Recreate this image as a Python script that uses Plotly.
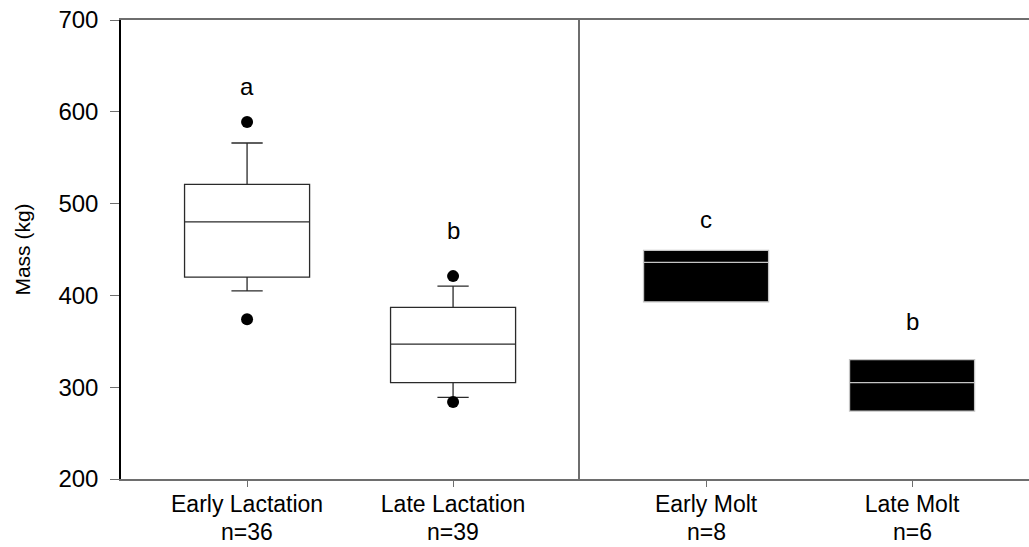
import plotly.graph_objects as go

# Seasonal body mass summaries (kg)
lact_groups = ["Early Lactation", "Late Lactation"]
lact_n = [36, 39]
lact_q1 = [420, 305]
lact_median = [480, 347]
lact_q3 = [521, 387]
lact_lower = [405, 289]
lact_upper = [566, 410]
lact_outliers = [[589, 374], [421, 284]]
lact_letters = ["a", "b"]
lact_letter_y = [628, 471]

molt_groups = ["Early Molt", "Late Molt"]
molt_n = [8, 6]
molt_q1 = [393, 274]
molt_median = [436, 305]
molt_q3 = [449, 330]
molt_letters = ["c", "b"]
molt_letter_y = [483, 372]

y_ticks = [200, 300, 400, 500, 600, 700]

FONT = "Liberation Sans, Arial, sans-serif"
BOX_W = 0.607

fig = go.Figure()

# Lactation panel: open boxes with capped whiskers
for i in range(len(lact_groups)):
    fig.add_trace(go.Box(
        x=[i], q1=[lact_q1[i]], median=[lact_median[i]], q3=[lact_q3[i]],
        lowerfence=[lact_lower[i]], upperfence=[lact_upper[i]],
        width=BOX_W, whiskerwidth=0.25, boxpoints=False,
        fillcolor="white", line=dict(color="#2a2a2a", width=1.3),
        xaxis="x", yaxis="y", showlegend=False, hoverinfo="skip",
    ))
    fig.add_trace(go.Scatter(
        x=[i] * len(lact_outliers[i]), y=lact_outliers[i], mode="markers",
        marker=dict(color="black", size=12),
        xaxis="x", yaxis="y", showlegend=False, hoverinfo="skip",
    ))

# Molt panel: solid boxes, light median line
for i in range(len(molt_groups)):
    fig.add_trace(go.Box(
        x=[i], q1=[molt_q1[i]], median=[molt_median[i]], q3=[molt_q3[i]],
        lowerfence=[molt_q1[i]], upperfence=[molt_q3[i]],
        width=BOX_W, whiskerwidth=0, boxpoints=False,
        fillcolor="black", line=dict(color="#c4c4c4", width=1.3),
        xaxis="x2", yaxis="y2", showlegend=False, hoverinfo="skip",
    ))

# Significance letters
letter_font = dict(family=FONT, size=24, color="black")
for i, t in enumerate(lact_letters):
    fig.add_annotation(x=i, y=lact_letter_y[i], xref="x", yref="y", text=t,
                       showarrow=False, font=letter_font)
for i, t in enumerate(molt_letters):
    fig.add_annotation(x=i, y=molt_letter_y[i], xref="x2", yref="y2", text=t,
                       showarrow=False, font=letter_font)

# Sample sizes under each group name
xtick_font = dict(family=FONT, size=23, color="black")
for xref, counts in (("x", lact_n), ("x2", molt_n)):
    for i, n in enumerate(counts):
        fig.add_annotation(x=i, y=0, xref=xref, yref="paper", text=f"n={n}",
                           showarrow=False, yanchor="middle", yshift=-53,
                           font=xtick_font)

split = (580 - 121) / (1029 - 121)
x_left = -0.612
x_span_l = (580 - 121) / 206
x_span_r = (1029 - 580) / 206

ytick_font = dict(family=FONT, size=24, color="black")
grey = "#6e6e6e"

fig.update_layout(
    width=1029, height=547,
    margin=dict(l=121, r=0, t=20, b=68),
    paper_bgcolor="white", plot_bgcolor="white",
    font=dict(family=FONT, color="black"),
    xaxis=dict(
        domain=[0, split], range=[x_left, x_left + x_span_l],
        tickvals=[0, 1], ticktext=lact_groups, tickfont=xtick_font,
        showgrid=False, zeroline=False, automargin=False,
        showline=True, linecolor=grey, linewidth=2, mirror=True,
        ticks="outside", ticklen=6, tickcolor=grey, tickwidth=1,
        ticklabelstandoff=-3,
    ),
    xaxis2=dict(
        domain=[split, 1], range=[x_left, x_left + x_span_r],
        tickvals=[0, 1], ticktext=molt_groups, tickfont=xtick_font,
        showgrid=False, zeroline=False, anchor="y2", automargin=False,
        showline=True, linecolor=grey, linewidth=2, mirror=True,
        ticks="outside", ticklen=6, tickcolor=grey, tickwidth=1,
        ticklabelstandoff=-3,
    ),
    yaxis=dict(
        range=[200, 700], tickvals=y_ticks, tickfont=ytick_font,
        showgrid=False, zeroline=False, automargin=False,
        showline=True, linecolor="black", linewidth=1.5,
        ticks="outside", ticklen=9, tickcolor=grey, tickwidth=1,
        ticklabelstandoff=7,
        title=dict(text="Mass (kg)", font=dict(family=FONT, size=21, color="black"),
                   standoff=22),
    ),
    yaxis2=dict(
        range=[200, 700], matches="y", anchor="x2", showticklabels=False,
        showgrid=False, zeroline=False, ticks="", automargin=False,
        showline=True, linecolor=grey, linewidth=2,
    ),
)

# Left panel's right edge, doubled against the molt panel's left edge
fig.add_shape(type="line", xref="x", yref="paper",
              x0=x_left + x_span_l, x1=x_left + x_span_l, y0=0, y1=1,
              line=dict(color=grey, width=2))

fig.write_html("out.html")
